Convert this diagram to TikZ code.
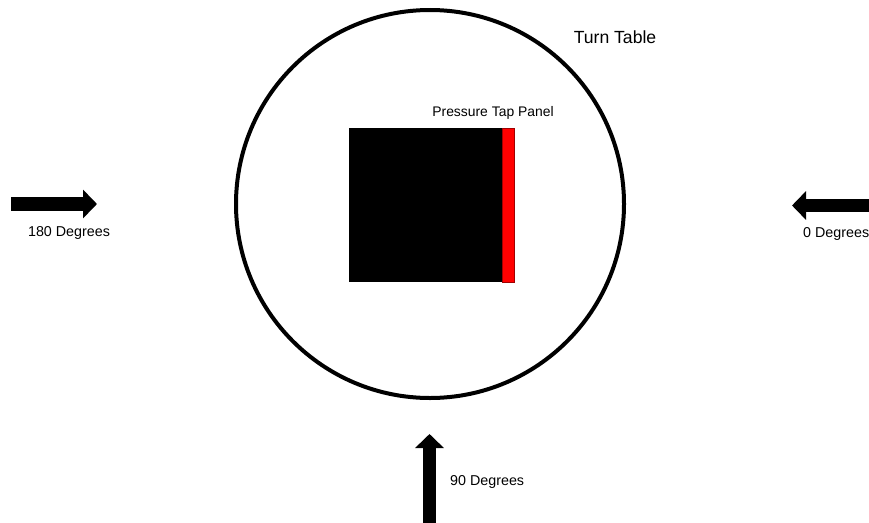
\documentclass[tikz,border=0pt]{standalone}
\usepackage{fontspec}
\setmainfont{Liberation Sans}
\usetikzlibrary{arrows.meta}
\definecolor{rojo}{HTML}{FF0000}
\definecolor{rojooscuro}{HTML}{A00000}

\begin{document}
\begin{tikzpicture}[x=1pt, y=-1pt, font=\fontsize{14.3}{16}\selectfont,
  viento/.style={line width=13.5pt, -{Triangle[length=14pt, width=28pt]}},
  rotulo/.style={inner sep=0pt}]

  \useasboundingbox (0,0) rectangle (869,522);

  % --- Mesa giratoria ---
  \draw[line width=4pt] (430,204) circle (194pt);
  \node[rotulo, font=\fontsize{17.6}{20}\selectfont] (mesa) at (615,37) {Turn Table};

  % --- Maqueta y panel de tomas de presion ---
  \fill[black] (349,128) rectangle (502,282);
  \filldraw[fill=rojo, draw=rojooscuro, line width=0.5pt] (502,128) rectangle (514,282);
  \node[rotulo, font=\fontsize{13.9}{16}\selectfont] (panel) at (493,113) {Pressure Tap Panel};

  % --- Direcciones de viento ---
  \coordinate (o180) at (11,204);
  \coordinate (f180) at (97,204);
  \draw[viento] (o180) -- (f180);
  \node[rotulo] (d180) at (69,232.5) {180 Degrees};

  \coordinate (o0) at (885,205.5);
  \coordinate (f0) at (792,205.5);
  \draw[viento] (o0) -- (f0);
  \node[rotulo, anchor=west] (d0) at (803,233.5) {0 Degrees};

  \coordinate (o90) at (429.5,535);
  \coordinate (f90) at (429.5,434);
  \draw[viento] (o90) -- (f90);
  \node[rotulo, anchor=west] (d90) at (450,482) {90 Degrees};

\end{tikzpicture}
\end{document}
